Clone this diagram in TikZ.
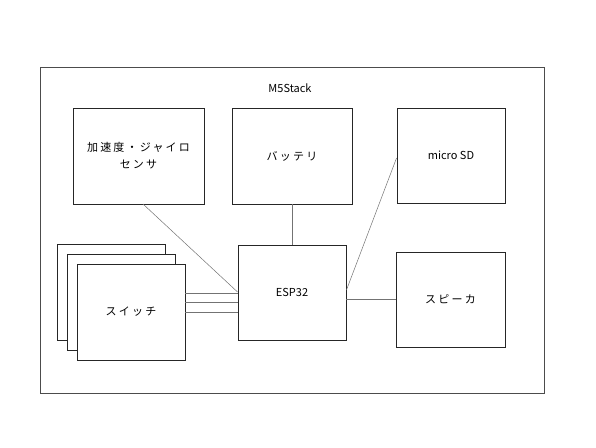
\documentclass[tikz,border=0pt]{standalone}
\usepackage{fontspec}
\setmainfont{Noto Sans CJK JP}
\newfontfamily\jpfont[LetterSpace=20]{Noto Sans CJK JP}
\usetikzlibrary{calc}
\tikzset{
  blk/.style={draw=black!85, line width=0.9pt, fill=white, minimum width=#1, inner sep=0pt, align=center, font=\fontsize{11}{17}\selectfont},
  conn/.style={draw=black!55, line width=0.5pt},
}
\begin{document}
\begin{tikzpicture}[x=1pt,y=-1pt]
\useasboundingbox (0,0) rectangle (596,447);
\node[draw=black!70, line width=0.9pt, minimum width=504pt, minimum height=326pt, inner sep=0pt] (outer) at (292,230) {};
\node[font=\fontsize{11}{13}\selectfont] (title) at (290,88) {M5Stack};
\node[blk=131pt, minimum height=96pt] (acc) at (138.5,156) {\jpfont 加速度・ジャイロ\\\jpfont センサ};
\node[blk=120pt, minimum height=96pt] (bat) at (292,156) {\jpfont バッテリ};
\node[blk=108pt, minimum height=95pt] (sd) at (451,155.5) {micro SD};
\node[blk=109pt, minimum height=95pt] (spk) at (450.5,299.5) {\jpfont スピーカ};
\node[blk=108pt, minimum height=95pt] (esp) at (292,292.5) {ESP32};
\node[blk=108pt, minimum height=96pt] (sw3) at (111,292) {};
\node[blk=108pt, minimum height=96pt] (sw2) at (121,302) {};
\node[blk=108pt, minimum height=96pt] (sw) at (131,312) {\jpfont スイッチ};
\coordinate (accend) at (143,204);
\draw[conn] (accend) -- (esp.west |- 0,292);
\draw[conn] (bat.south) -- (esp.north);
\draw[conn] (esp.east |- 0,290) -- (sd.west |- 0,158);
\draw[conn] (esp.east |- 0,299) -- (spk.west |- 0,299);
\draw[conn] (sw.east |- 0,293) -- (esp.west |- 0,293);
\draw[conn] (sw.east |- 0,302) -- (esp.west |- 0,302);
\draw[conn] (sw.east |- 0,312) -- (esp.west |- 0,312);
\end{tikzpicture}
\end{document}
